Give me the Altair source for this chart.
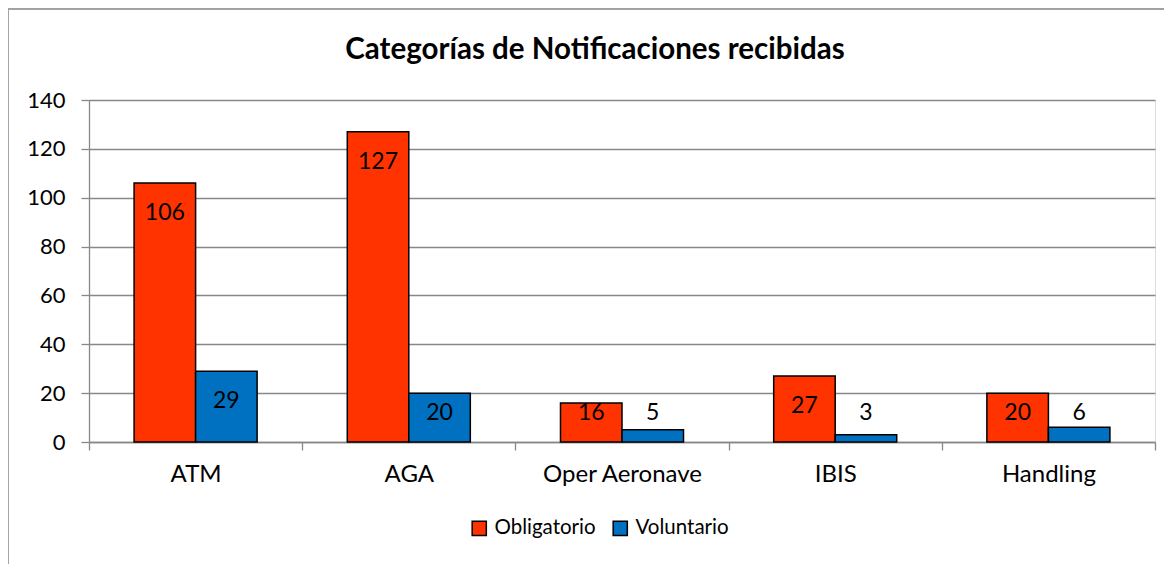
import altair as alt
import pandas as pd

categories = ["ATM", "AGA", "Oper Aeronave", "IBIS", "Handling"]
obligatorio = [106, 127, 16, 27, 20]
voluntario = [29, 20, 5, 3, 6]
series = ["Obligatorio", "Voluntario"]
colors = ["#FF3300", "#0070C0"]
y_ticks = [0, 20, 40, 60, 80, 100, 120, 140]
title_text = "Categorías de Notificaciones recibidas"

rows = []
for c, o, v in zip(categories, obligatorio, voluntario):
    rows.append({"cat": c, "serie": series[0], "valor": o})
    rows.append({"cat": c, "serie": series[1], "valor": v})
df = pd.DataFrame(rows)

FONT = "Lato"
W, H = 1066, 342

x_enc = alt.X("cat:N", sort=categories,
              scale=alt.Scale(paddingInner=0, paddingOuter=0),
              axis=alt.Axis(title=None, tickBand="extent", labelFontSize=24,
                            labelFont=FONT, labelColor="#000000", labelPadding=12,
                            domainColor="#888888", domainWidth=1.3,
                            tickColor="#888888", tickWidth=1.3, tickSize=8,
                            labelAngle=0))
xo_enc = alt.XOffset("serie:N", sort=series,
                     scale=alt.Scale(paddingInner=0, paddingOuter=0.733))

bars = alt.Chart(df).mark_bar(stroke="#000000", strokeWidth=1.5).encode(
    x=x_enc,
    xOffset=xo_enc,
    y=alt.Y("valor:Q",
            scale=alt.Scale(domain=[0, 140], nice=False),
            axis=alt.Axis(title=None, values=y_ticks, labelFontSize=22,
                          labelFont=FONT, labelColor="#000000", labelPadding=16,
                          domainColor="#888888", domainWidth=1.3,
                          tickColor="#888888", tickWidth=1.3, tickSize=8,
                          gridColor="#888888", gridWidth=1.3)),
    color=alt.Color("serie:N", sort=series,
                    scale=alt.Scale(domain=series, range=colors),
                    legend=alt.Legend(title=None, orient="none", direction="horizontal",
                                      legendX=380, legendY=418,
                                      symbolType="square", symbolSize=200,
                                      symbolStrokeColor="#000000", symbolStrokeWidth=1.5,
                                      labelFontSize=20.5, labelFont=FONT,
                                      labelColor="#000000", columnPadding=14,
                                      labelOffset=5)),
)

labels = alt.Chart(df).transform_calculate(
    ypos="max(datum.valor - 12.3, 11.7)"
).mark_text(fontSize=23, font=FONT, color="#000000", baseline="middle").encode(
    x=alt.X("cat:N", sort=categories),
    xOffset=alt.XOffset("serie:N", sort=series),
    y=alt.Y("ypos:Q"),
    text=alt.Text("valor:Q"),
)

title = alt.Chart(pd.DataFrame({"t": [title_text]})).mark_text(
    fontSize=29.5, font=FONT, fontWeight="bold", color="#000000",
    align="center", baseline="middle"
).encode(text="t:N", x=alt.value(506), y=alt.value(-50))

border_left = alt.Chart(df).mark_rule(color="#a0a0a0", strokeWidth=1.5).encode(
    x=alt.value(-81.5), y=alt.value(-92), y2=alt.value(480))
border_top = alt.Chart(df).mark_rule(color="#a0a0a0", strokeWidth=1.5).encode(
    y=alt.value(-91.5), x=alt.value(-82), x2=alt.value(1100))

chart = alt.layer(bars, labels, title, border_left, border_top).properties(
    width=W, height=H,
    autosize=alt.AutoSizeParams(type="none"),
    padding={"left": 81, "top": 92, "right": 9, "bottom": 122},
).configure_view(stroke=None).configure(background="#ffffff")

chart.save("out.html", embed_options={"renderer": "svg", "actions": False})
